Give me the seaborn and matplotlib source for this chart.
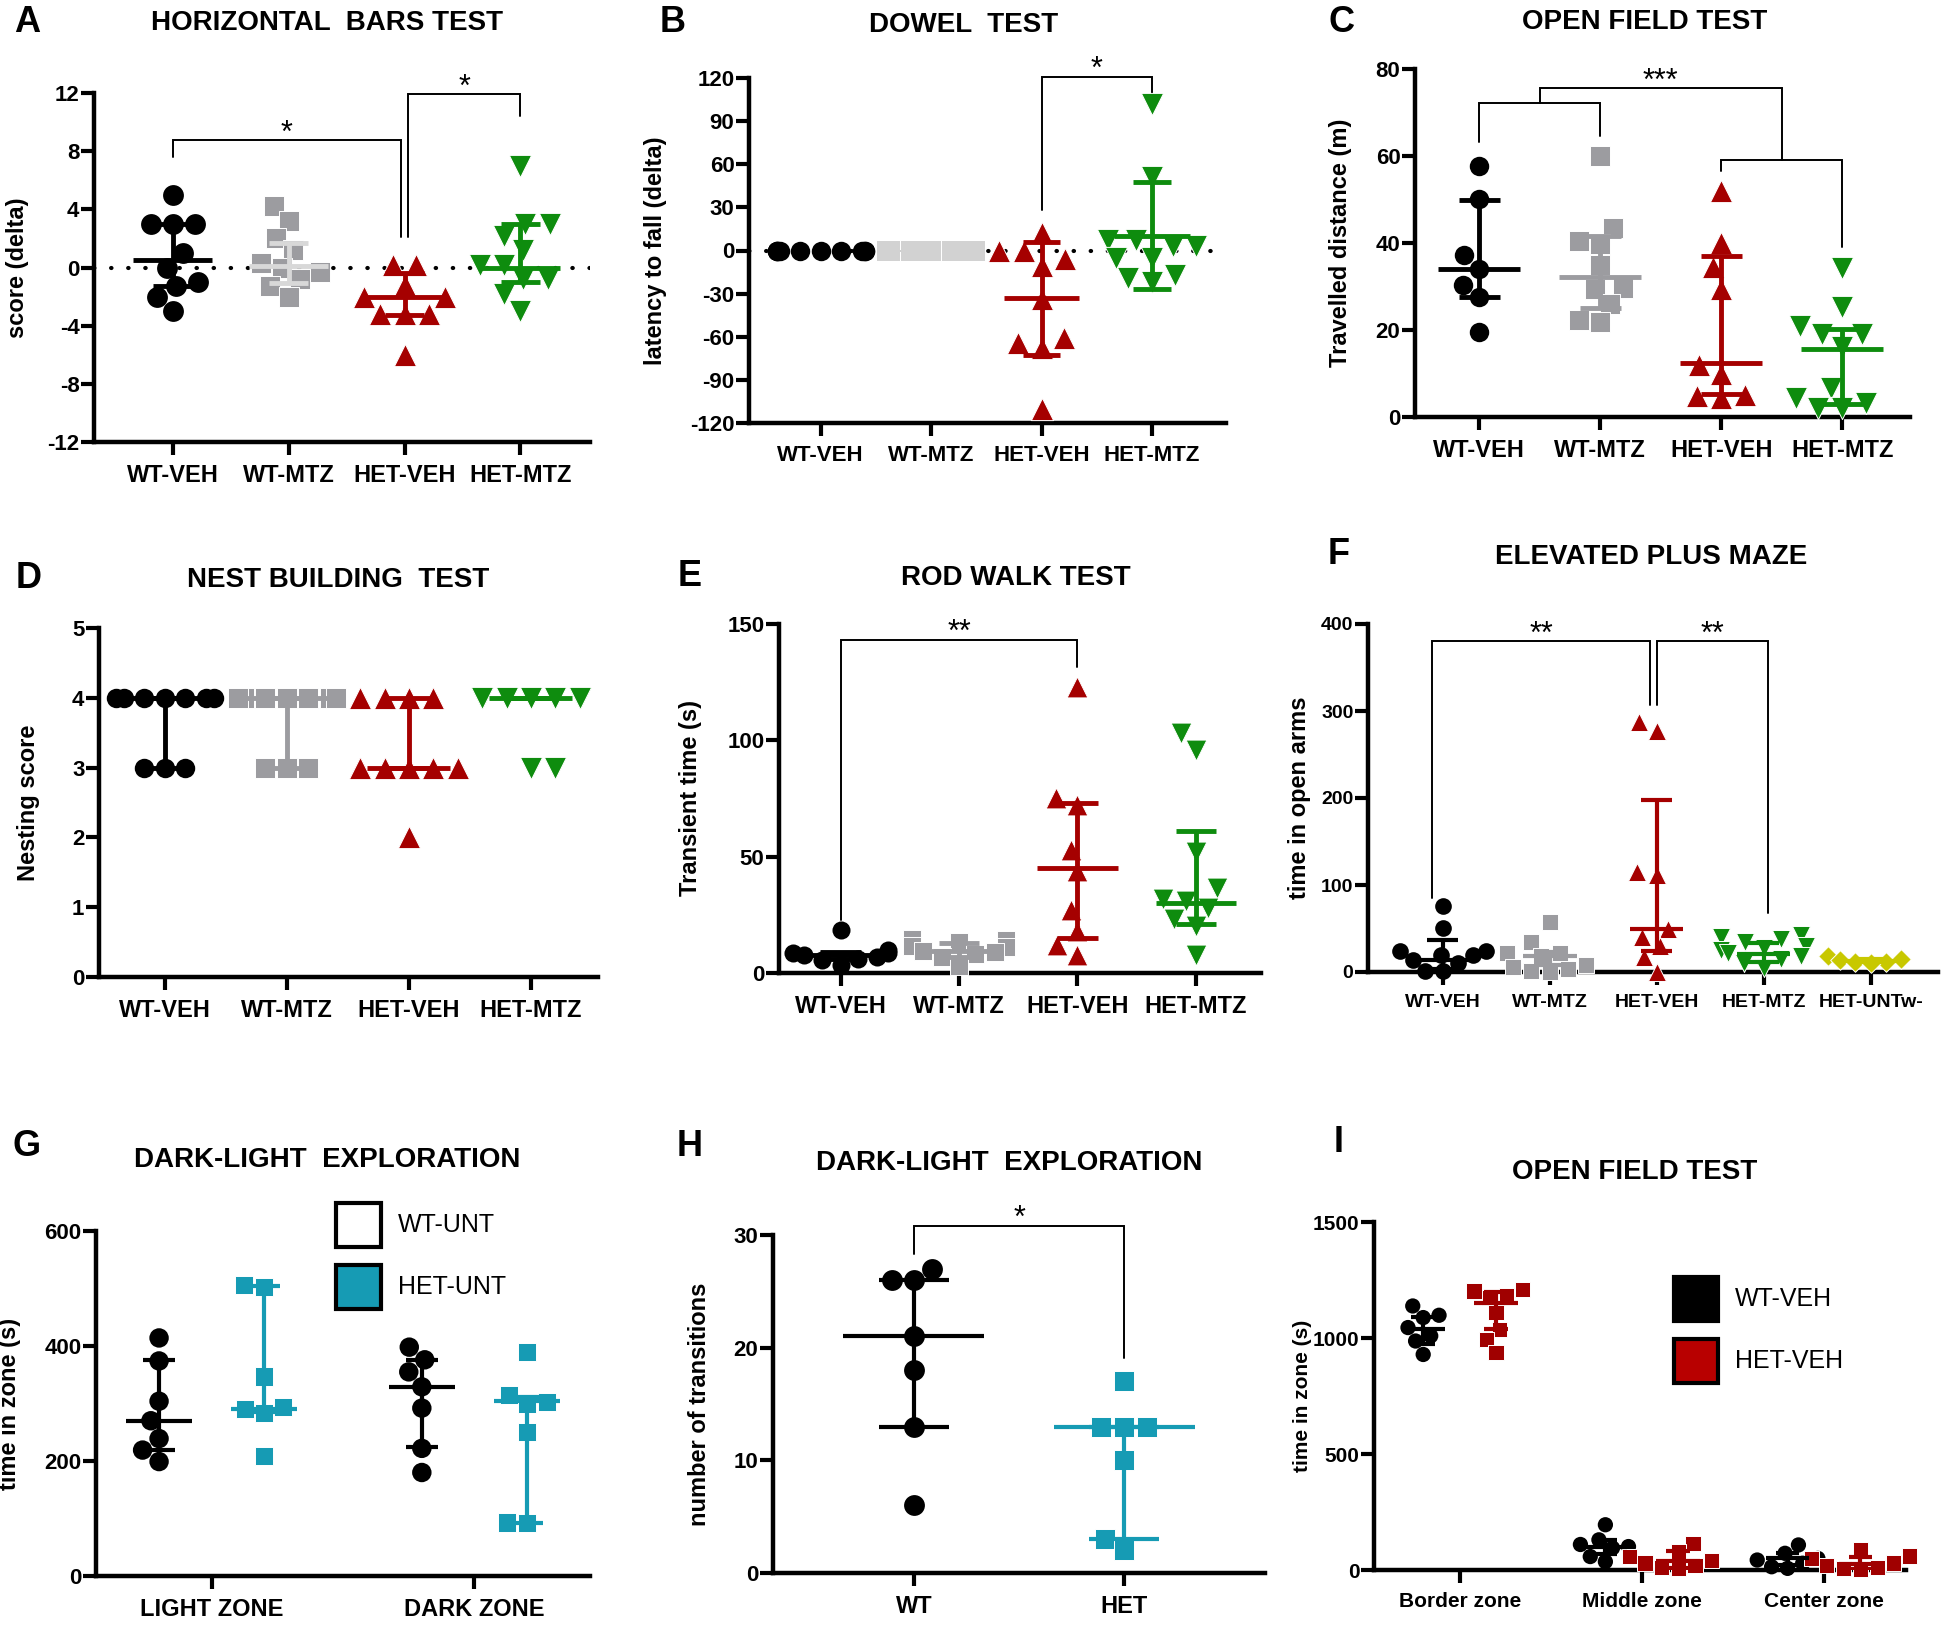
import warnings
import matplotlib
matplotlib.use("Agg")
import matplotlib.pyplot as plt
from matplotlib.patches import Rectangle
import seaborn as sns

warnings.filterwarnings("ignore")
sns.set_theme(style="ticks", rc={"axes.edgecolor": "black", "xtick.color": "black",
                                 "ytick.color": "black", "text.color": "black",
                                 "axes.labelcolor": "black"})
plt.rcParams["font.family"] = ["Liberation Sans", "DejaVu Sans"]
plt.rcParams["axes.unicode_minus"] = False
NARROW = ["Liberation Sans", "DejaVu Sans"]

# ---------------- data ----------------
groups4 = ["WT-VEH", "WT-MTZ", "HET-VEH", "HET-MTZ"]

# A horizontal bars
a_wt_veh = [5.0, 3.0, 3.0, 3.0, 1.0, 0.0, -1.0, -1.3, -2.0, -3.0]
a_wt_mtz = [4.2, 3.2, 2.0, 1.2, 0.3, 0.0, -0.3, -0.8, -1.3, -2.0]
a_het_veh = [0.2, 0.2, -1.2, -2.0, -2.0, -3.2, -3.2, -3.2, -6.0]
a_het_mtz = [7.0, 3.0, 3.0, 2.2, 1.2, 0.2, 0.2, -0.8, -0.8, -1.8, -3.0]
a_median = [0.5, 0.1, -2.0, 0.0]
a_q1 = [-1.25, -1.1, -3.25, -1.0]
a_q3 = [3.0, 1.7, -0.4, 3.0]

# B dowel
b_wt_veh = [0, 0, 0, 0, 0, 0, 0, 0, 0, 0]
b_wt_mtz = [0, 0, 0, 0, 0, 0, 0, 0, 0, 0]
b_het_veh = [12, 0, 0, -6, -11, -34, -61, -64, -68, -110]
b_het_mtz = [102, 51, 7, 7, 3, 3, -5, -5, -17, -19, -22]
b_median = [None, None, -33, 10]
b_q1 = [None, None, -73, -27]
b_q3 = [None, None, 6, 48]

# C open field distance
c_wt_veh = [57.8, 50.1, 37.2, 34.1, 30.3, 27.6, 19.6]
c_wt_mtz = [60.0, 43.5, 40.5, 39.7, 35.0, 29.7, 29.5, 26.0, 22.4, 21.8]
c_het_veh = [52.0, 40.0, 34.5, 29.5, 12.0, 10.0, 5.0, 4.8, 4.4]
c_het_mtz = [34.3, 25.2, 21.0, 19.0, 19.0, 16.0, 6.7, 4.4, 3.2, 2.0, 2.0]
c_median = [34.0, 32.2, 12.5, 15.7]
c_q1 = [27.5, 25.0, 5.2, 3.1]
c_q3 = [50.0, 41.5, 37.0, 20.2]

# D nest building
d_wt_veh = [4, 4, 4, 4, 4, 4, 4, 3, 3, 3]
d_wt_mtz = [4, 4, 4, 4, 4, 4, 4, 4, 3, 3, 3]
d_het_veh = [4, 4, 4, 4, 3, 3, 3, 3, 3, 3, 2]
d_het_mtz = [4, 4, 4, 4, 4, 4, 4, 4, 4, 3, 3]
d_median = [4, 4, 3, 4]
d_q1 = [3, 3, 3, 4]
d_q3 = [4, 4, 4, 4]

# E rod walk
e_wt_veh = [18.5, 9.8, 8.4, 8.4, 7.7, 7.0, 6.2, 5.5, 3.3]
e_wt_mtz = [14.5, 14.0, 13.5, 11.5, 11.0, 9.5, 9.0, 8.0, 7.0, 3.0]
e_het_veh = [123, 75, 72, 53, 44, 27, 18, 12, 7.7]
e_het_mtz = [103, 96, 52, 36.6, 32, 31, 28, 23, 20, 7.7]
e_median = [7.7, 9.5, 45, 30]
e_q1 = [6.0, 7.0, 15.2, 21]
e_q3 = [9.0, 13.0, 73, 61]

# F elevated plus maze
groups5 = ["WT-VEH", "WT-MTZ", "HET-VEH", "HET-MTZ", "HET-UNTw-"]
f_wt_veh = [76, 51, 24, 24, 20, 20, 14, 10, 1, 1]
f_wt_mtz = [58, 35, 22, 22, 18, 8, 6, 3, 1, 0]
f_het_veh = [287, 277, 115, 112, 50, 40, 30, 17, 0]
f_het_mtz = [42, 40, 38, 35, 30, 28, 25, 22, 18, 15, 10, 5]
f_het_unt = [18, 15, 14, 12, 12, 10]
f_median = [14, 18, 50, 21, 13]
f_q1 = [3, 8, 24, 12, 11]
f_q3 = [37, 23, 198, 33, 15]

# G dark-light time in zone
zones_g = ["LIGHT ZONE", "DARK ZONE"]
g_wt_light = [414, 374, 304, 270, 239, 219, 199]
g_het_light = [506, 503, 347, 294, 290, 283, 209]
g_wt_dark = [398, 376, 355, 329, 292, 222, 180]
g_het_dark = [389, 315, 303, 300, 251, 93, 92]
g_wt_median = [270, 329]
g_wt_q1 = [220, 225]
g_wt_q3 = [375, 376]
g_het_median = [290, 305]
g_het_q1 = [285, 93]
g_het_q3 = [505, 312]

# H transitions
groups_h = ["WT", "HET"]
h_wt = [27, 26, 26, 21, 18, 13, 6]
h_het = [17, 13, 13, 13, 10, 3, 2]
h_median = [21, 13]
h_q1 = [13, 3]
h_q3 = [26, 13]

# I open field zones
zones_i = ["Border zone", "Middle zone", "Center zone"]
i_wt = [[1138, 1098, 1088, 1045, 1009, 987, 929],
        [195, 130, 110, 101, 95, 58, 36],
        [108, 72, 50, 43, 29, 14, 7]]
i_het = [[1210, 1203, 1182, 1175, 1110, 1037, 994, 937],
         [115, 80, 58, 40, 30, 20, 10, 5],
         [86, 60, 50, 30, 20, 10, 5, 2]]
i_wt_median = [1040, 100, 50]
i_wt_q1 = [975, 70, 20]
i_wt_q3 = [1090, 130, 75]
i_het_median = [1150, 40, 25]
i_het_q1 = [1040, 10, 5]
i_het_q3 = [1200, 80, 55]

BLACK, GRAY, LGRAY = "#000000", "#9c9ca0", "#d2d2d2"
RED, GREEN, YELLOW, TEAL = "#a50000", "#0e8c0e", "#c8c800", "#169bb4"
RED_I = "#a00000"
COL4 = [BLACK, GRAY, RED, GREEN]
MK4 = ["o", "s", "^", "v"]

W, H = 1945, 1625
fig = plt.figure(figsize=(W / 100, H / 100), dpi=100)


def add_ax(left, top, right, bottom):
    return fig.add_axes([left / W, 1 - bottom / H, (right - left) / W, (bottom - top) / H])


def swarm(ax, order, i, values, color, marker, size, lw=0.7, hue=None, hue_order=None,
          palette=None):
    kw = dict(order=order, marker=marker, size=size, ax=ax, clip_on=False,
              warn_thresh=1, legend=False)
    if marker != "o":
        kw.update(edgecolor="white", linewidth=lw)
    else:
        kw.update(linewidth=0)
    x = [order[i]] * len(values)
    if hue is None:
        sns.swarmplot(x=x, y=values, color=color, **kw)
    else:
        sns.swarmplot(x=x, y=values, hue=[hue] * len(values), hue_order=hue_order,
                      palette=palette, dodge=True, **kw)


def med_iqr(ax, x, med, q1, q3, color, mw=0.68, cw=0.34, lw=3.5):
    if med is None:
        return
    ax.hlines(med, x - mw / 2, x + mw / 2, color=color, lw=lw, zorder=3)
    ax.hlines([q1, q3], x - cw / 2, x + cw / 2, color=color, lw=lw, zorder=3)
    ax.vlines(x, q1, q3, color=color, lw=lw, zorder=3)


def style(ax, ylim, yticks, xlim, xlabels, ylabel, ylab_x, xsize=17, ysize=16, ylsize=17):
    ax.set_xlim(*xlim)
    ax.set_ylim(*ylim)
    ax.set_yticks(yticks)
    ax.set_yticklabels([str(t) for t in yticks], fontsize=ysize, fontweight="bold",
                       fontfamily=NARROW)
    ax.set_xticks(range(len(xlabels)))
    ax.set_xticklabels(xlabels, fontsize=xsize, fontweight="bold", fontfamily=NARROW)
    ax.set_xlabel("")
    ax.set_ylabel(ylabel, fontsize=ylsize, fontweight="bold")
    ax.yaxis.set_label_coords(ylab_x, 0.5)
    sns.despine(ax=ax)
    for s in ("left", "bottom"):
        ax.spines[s].set_linewidth(3.2)
    ax.tick_params(axis="both", width=3, length=9.5, direction="out")
    ax.tick_params(axis="y", pad=1)
    ax.tick_params(axis="x", pad=6)


def zero_line(ax):
    ax.axhline(0, color="black", lw=3, linestyle=(0, (0.1, 4)),
               dash_capstyle="round", zorder=0.5)


def bracket(ax, x1, x2, y, y1, y2, label, xm=None):
    ax.plot([x1, x1, x2, x2], [y1, y, y, y2], color="black", lw=1.4,
            clip_on=False, solid_joinstyle="miter")
    if label:
        ax.annotate(label, xy=((x1 + x2) / 2 if xm is None else xm, y), xytext=(0, -1),
                    textcoords="offset points", ha="center", va="baseline",
                    fontsize=22, annotation_clip=False)


def fig_text(x, y, s, **kw):
    fig.text(x / W, 1 - y / H, s, ha="center", va="center", **kw)


def legend_box(x0, y0, x1, y1, face, label):
    fig.add_artist(Rectangle((x0 / W, 1 - y1 / H), (x1 - x0) / W, (y1 - y0) / H,
                             transform=fig.transFigure, facecolor=face,
                             edgecolor="black", lw=3))
    fig.text((x1 + 17) / W, 1 - (y0 + y1) / 2 / H, label, ha="left", va="center",
             fontsize=18)


# ---------------- A ----------------
ax = add_ax(94, 93, 590, 442)
zero_line(ax)
for i, (vals, sz) in enumerate(zip([a_wt_veh, a_wt_mtz, a_het_veh, a_het_mtz], [15, 14, 16, 16])):
    swarm(ax, groups4, i, vals, COL4[i], MK4[i], sz)
    lc = "#d8d8d8" if i == 1 else COL4[i]
    med_iqr(ax, i, a_median[i], a_q1[i], a_q3[i], lc)
style(ax, (-12, 12), [-12, -8, -4, 0, 4, 8, 12], (-0.68, 3.6), groups4,
      "score (delta)", -0.131)
bracket(ax, 0, 1.97, 8.75, 7.6, 2.1, "*")
bracket(ax, 2.03, 3, 11.9, 2.1, 10.4, "*")

# ---------------- B ----------------
ax = add_ax(749, 78, 1226, 423)
zero_line(ax)
for i, (vals, sz) in enumerate(zip([b_wt_veh, b_wt_mtz, b_het_veh, b_het_mtz], [14, 14, 16, 16])):
    col = LGRAY if i == 1 else COL4[i]
    swarm(ax, groups4, i, vals, col, MK4[i], sz, lw=0 if i == 1 else 0.7)
    med_iqr(ax, i, b_median[i], b_q1[i], b_q3[i], COL4[i])
style(ax, (-120, 120), [-120, -90, -60, -30, 0, 30, 60, 90, 120], (-0.65, 3.67), groups4,
      "latency to fall (delta)", -0.172, xsize=16)
bracket(ax, 2, 3, 121, 28, 109, "*")

# ---------------- C ----------------
ax = add_ax(1415, 69, 1910, 417)
for i, (vals, sz) in enumerate(zip([c_wt_veh, c_wt_mtz, c_het_veh, c_het_mtz], [14, 14, 16, 16])):
    swarm(ax, groups4, i, vals, COL4[i], MK4[i], sz)
    med_iqr(ax, i, c_median[i], c_q1[i], c_q3[i], COL4[i])
style(ax, (0, 80), [0, 20, 40, 60, 80], (-0.53, 3.56), groups4,
      "Travelled distance (m)", -0.127)
bracket(ax, 0, 1, 72.1, 63.3, 64.6, "")
bracket(ax, 2, 3, 59.1, 56.5, 39.1, "")
bracket(ax, 0.5, 2.5, 75.6, 72.1, 59.1, "***", xm=1.5)

# ---------------- D ----------------
ax = add_ax(99, 628, 598, 977)
for i, (vals, sz) in enumerate(zip([d_wt_veh, d_wt_mtz, d_het_veh, d_het_mtz], [14, 14, 16, 16])):
    swarm(ax, groups4, i, vals, COL4[i], MK4[i], sz)
    med_iqr(ax, i, d_median[i], d_q1[i], d_q3[i], COL4[i])
style(ax, (0, 5), [0, 1, 2, 3, 4, 5], (-0.54, 3.55), groups4, "Nesting score", -0.118)

# ---------------- E ----------------
ax = add_ax(779, 624, 1261, 973)
for i, (vals, sz) in enumerate(zip([e_wt_veh, e_wt_mtz, e_het_veh, e_het_mtz], [13, 13, 15, 15])):
    swarm(ax, groups4, i, vals, COL4[i], MK4[i], sz)
    med_iqr(ax, i, e_median[i], e_q1[i], e_q3[i], COL4[i])
style(ax, (0, 150), [0, 50, 100, 150], (-0.52, 3.55), groups4,
      "Transient time (s)", -0.16)
bracket(ax, 0, 2, 143.2, 22.8, 131.5, "**")

# ---------------- F ----------------
ax = add_ax(1368, 624, 1938, 972)
col5 = [BLACK, GRAY, RED, GREEN, YELLOW]
mk5 = ["o", "s", "^", "v", "D"]
for i, (vals, sz) in enumerate(zip([f_wt_veh, f_wt_mtz, f_het_veh, f_het_mtz, f_het_unt],
                                   [12, 12, 13, 13, 10])):
    swarm(ax, groups5, i, vals, col5[i], mk5[i], sz)
    med_iqr(ax, i, f_median[i], f_q1[i], f_q3[i], col5[i], mw=0.5, cw=0.29, lw=3)
style(ax, (0, 400), [0, 100, 200, 300, 400], (-0.70, 4.63), groups5,
      "time in open arms", -0.1, xsize=14, ysize=14)
bracket(ax, -0.1, 1.94, 380, 85, 307, "**")
bracket(ax, 2.0, 3.04, 380, 307, 68, "**")

# ---------------- G ----------------
ax = add_ax(96, 1231, 590, 1576)
geno_g = ["WT-UNT", "HET-UNT"]
pal_g = {"WT-UNT": BLACK, "HET-UNT": TEAL}
for z, (wv, hv) in enumerate([(g_wt_light, g_het_light), (g_wt_dark, g_het_dark)]):
    swarm(ax, zones_g, z, wv, BLACK, "o", 14, hue="WT-UNT", hue_order=geno_g, palette=pal_g)
    swarm(ax, zones_g, z, hv, TEAL, "s", 13, hue="HET-UNT", hue_order=geno_g, palette=pal_g)
    med_iqr(ax, z - 0.2, g_wt_median[z], g_wt_q1[z], g_wt_q3[z], BLACK, 0.25, 0.12, 3)
    med_iqr(ax, z + 0.2, g_het_median[z], g_het_q1[z], g_het_q3[z], TEAL, 0.25, 0.12, 3)
style(ax, (0, 600), [0, 200, 400, 600], (-0.44, 1.44), zones_g,
      "time in zone (s)", -0.152, xsize=17, ysize=16)
legend_box(336, 1203, 381, 1247, "white", "WT-UNT")
legend_box(336, 1265, 381, 1309, TEAL, "HET-UNT")

# ---------------- H ----------------
ax = add_ax(773, 1235, 1265, 1573)
swarm(ax, groups_h, 0, h_wt, BLACK, "o", 15)
swarm(ax, groups_h, 1, h_het, TEAL, "s", 15)
med_iqr(ax, 0, h_median[0], h_q1[0], h_q3[0], BLACK, 0.67, 0.33, 3)
med_iqr(ax, 1, h_median[1], h_q1[1], h_q3[1], TEAL, 0.67, 0.33, 3)
style(ax, (0, 30), [0, 10, 20, 30], (-0.67, 1.67), groups_h,
      "number of transitions", -0.126, xsize=17, ysize=16)
bracket(ax, 0, 1, 30.8, 28.3, 19.1, "*")

# ---------------- I ----------------
ax = add_ax(1374, 1222, 1906, 1570)
geno_i = ["WT-VEH", "HET-VEH"]
pal_i = {"WT-VEH": BLACK, "HET-VEH": RED_I}
for z in range(3):
    swarm(ax, zones_i, z, i_wt[z], BLACK, "o", 11, hue="WT-VEH", hue_order=geno_i, palette=pal_i)
    swarm(ax, zones_i, z, i_het[z], RED_I, "s", 11, hue="HET-VEH", hue_order=geno_i, palette=pal_i)
    med_iqr(ax, z - 0.2, i_wt_median[z], i_wt_q1[z], i_wt_q3[z], BLACK, 0.24, 0.13, 3)
    med_iqr(ax, z + 0.2, i_het_median[z], i_het_q1[z], i_het_q3[z], RED_I, 0.24, 0.13, 3)
style(ax, (0, 1500), [0, 500, 1000, 1500], (-0.47, 2.45), zones_i,
      "time in zone (s)", -0.117, xsize=15, ysize=15, ylsize=15)
legend_box(1674, 1277, 1718, 1321, "black", "WT-VEH")
legend_box(1674, 1339, 1718, 1383, "#b80000", "HET-VEH")

# ---------------- titles and panel letters ----------------
titles = [(327, 23, "HORIZONTAL  BARS TEST"), (964, 25, "DOWEL  TEST"),
          (1645, 22, "OPEN FIELD TEST"), (338, 580, "NEST BUILDING  TEST"),
          (1016, 578, "ROD WALK TEST"), (1651, 557, "ELEVATED PLUS MAZE"),
          (327, 1160, "DARK-LIGHT  EXPLORATION"), (1009, 1163, "DARK-LIGHT  EXPLORATION"),
          (1635, 1172, "OPEN FIELD TEST")]
for x, y, t in titles:
    fig_text(x, y, t, fontsize=20, fontweight="bold")

letters = [(27, 23, "A"), (673, 22, "B"), (1341, 22, "C"), (29, 578, "D"), (690, 577, "E"),
           (1339, 555, "F"), (27, 1147, "G"), (690, 1147, "H"), (1339, 1143, "I")]
for x, y, t in letters:
    fig_text(x, y, t, fontsize=26, fontweight="bold")

fig.savefig("out.png", dpi=100)
